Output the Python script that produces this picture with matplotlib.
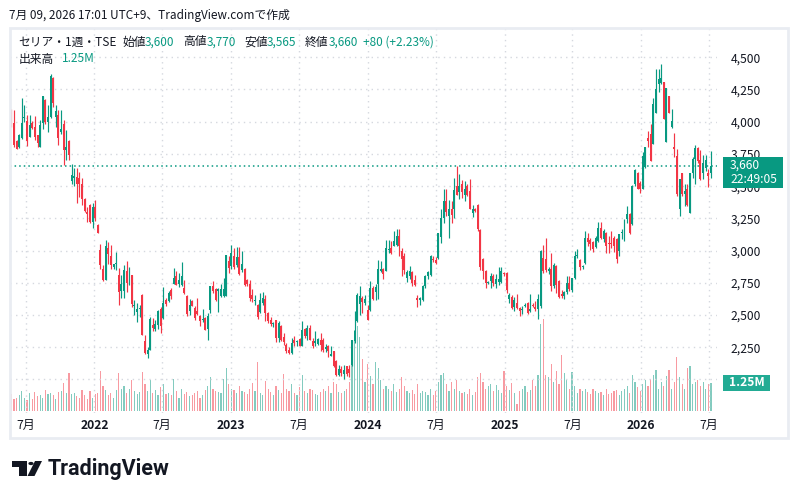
import numpy as np
import pandas as pd
import matplotlib
matplotlib.use("Agg")
import matplotlib.pyplot as plt
from matplotlib.patches import Rectangle, Circle, Polygon

plt.rcParams['font.family'] = ['Noto Sans CJK JP', 'DejaVu Sans']

W, H = 798, 499
UP = '#089981'
DOWN = '#f23645'
TXT = '#131722'
GRID = '#d5d8df'

# weekly candles, first week starts 2021-05-24
start_week = '2021-05-24'

opens = [
    4003, 3992, 3848, 3804, 3874, 4025, 4003, 3881, 3992, 3960,
    3894, 3804, 3992, 4165, 3998, 4036, 4338, 4036, 4049, 3920,
    3985, 3778, 3848, 3539, 3560, 3573, 3565, 3520, 3404, 3302,
    3353, 3224, 3340, 3199, 3005, 2858, 2773, 3018, 2961, 2876,
    2894, 2812, 2688, 2683, 2843, 2745, 2812, 2570, 2523, 2545,
    2657, 2302, 2199, 2232, 2425, 2395, 2426, 2547, 2480, 2615,
    2607, 2698, 2744, 2806, 2742, 2736, 2710, 2651, 2530, 2607,
    2555, 2530, 2496, 2460, 2478, 2392, 2537, 2729, 2703, 2690,
    2646, 2650, 2646, 2917, 2880, 2956, 2891, 2951, 2847, 2858,
    2770, 2742, 2659, 2610, 2581, 2522, 2590, 2625, 2517, 2460,
    2430, 2460, 2323, 2418, 2330, 2271, 2230, 2206, 2305, 2290,
    2315, 2263, 2392, 2336, 2400, 2297, 2280, 2279, 2310, 2310,
    2240, 2258, 2186, 2219, 2142, 2038, 2082, 2046, 2103, 2080,
    2116, 2297, 2452, 2589, 2633, 2594, 2542, 2537, 2710, 2680,
    2744, 2840, 2858, 2840, 3005, 3021, 3039, 3047, 3111, 2995,
    2961, 2788, 2800, 2832, 2775, 2633, 2620, 2615, 2723, 2801,
    2814, 2935, 2926, 2944, 3107, 3254, 3384, 3267, 3324, 3324,
    3505, 3453, 3520, 3430, 3505, 3461, 3290, 3320, 3350, 3159,
    2936, 2841, 2750, 2763, 2802, 2737, 2760, 2755, 2830, 2828,
    2621, 2642, 2560, 2590, 2556, 2540, 2570, 2595, 2531, 2575,
    2565, 2544, 2569, 2940, 2936, 2841, 2854, 2724, 2880, 2763,
    2665, 2647, 2678, 2745, 2693, 2790, 2960, 2928, 2870, 2902,
    3101, 3083, 3067, 3031, 3075, 3179, 3088, 3140, 3060, 3055,
    3101, 3088, 2998, 3135, 3088, 3249, 3282, 3204, 3514, 3605,
    3527, 3481, 3651, 3870, 3902, 3824, 4070, 4290, 4302, 4307,
    3842, 4199, 3961, 3806, 3734, 3321, 3605, 3437, 3476, 3290,
    3605, 3708, 3799, 3703, 3605, 3640, 3605, 3600]

highs = [
    4100, 4088, 3856, 3907, 4183, 4131, 4054, 4054, 4003, 4041,
    3894, 4010, 4196, 4178, 4131, 4368, 4346, 4126, 4088, 4093,
    4010, 3933, 3856, 3668, 3640, 3637, 3611, 3560, 3410, 3340,
    3358, 3366, 3391, 3205, 3049, 2889, 3082, 3070, 3044, 2897,
    2992, 2863, 2812, 2886, 2920, 2876, 2812, 2620, 2593, 2575,
    2662, 2348, 2250, 2486, 2476, 2465, 2537, 2563, 2715, 2633,
    2685, 2710, 2864, 2839, 2826, 2910, 2775, 2659, 2625, 2620,
    2568, 2633, 2504, 2550, 2486, 2517, 2729, 2762, 2710, 2710,
    2737, 2788, 2969, 2956, 3047, 3021, 3028, 3028, 3000, 2866,
    2780, 2770, 2700, 2659, 2589, 2672, 2677, 2659, 2522, 2486,
    2445, 2465, 2452, 2426, 2360, 2284, 2250, 2323, 2336, 2310,
    2323, 2452, 2400, 2426, 2426, 2323, 2380, 2323, 2362, 2323,
    2275, 2271, 2258, 2224, 2155, 2116, 2103, 2116, 2108, 2110,
    2305, 2530, 2672, 2724, 2651, 2659, 2581, 2762, 2729, 2737,
    2930, 2917, 2866, 3080, 3085, 3073, 3150, 3168, 3168, 3021,
    2982, 2853, 2880, 2840, 2814, 2652, 2640, 2736, 2814, 2840,
    2969, 2960, 2952, 3133, 3324, 3480, 3480, 3396, 3384, 3565,
    3660, 3598, 3546, 3540, 3515, 3557, 3357, 3330, 3358, 3164,
    2944, 2848, 2763, 2828, 2815, 2815, 2872, 2874, 2835, 2833,
    2673, 2652, 2640, 2660, 2560, 2570, 2595, 2600, 2665, 2595,
    2610, 2660, 3003, 3047, 3099, 2870, 2980, 2900, 2885, 2770,
    2695, 2685, 2800, 2800, 2790, 3000, 3010, 2938, 2890, 3153,
    3140, 3101, 3075, 3114, 3222, 3222, 3166, 3145, 3114, 3153,
    3114, 3101, 3127, 3170, 3243, 3346, 3290, 3507, 3631, 3610,
    3540, 3765, 3807, 3930, 3986, 4185, 4410, 4410, 4444, 4307,
    4263, 4199, 4100, 3910, 3790, 3553, 3605, 3514, 3514, 3605,
    3730, 3821, 3807, 3780, 3743, 3743, 3631, 3770]

lows = [
    3960, 3804, 3786, 3796, 3866, 3997, 3812, 3881, 3946, 3856,
    3804, 3804, 3946, 3985, 3920, 4030, 4114, 3959, 3823, 3907,
    3663, 3705, 3700, 3513, 3500, 3366, 3418, 3353, 3302, 3224,
    3211, 3177, 3232, 3135, 2858, 2766, 2773, 2894, 2858, 2858,
    2850, 2580, 2636, 2636, 2675, 2730, 2559, 2500, 2443, 2485,
    2343, 2194, 2168, 2232, 2374, 2374, 2392, 2362, 2470, 2571,
    2599, 2625, 2739, 2731, 2721, 2728, 2667, 2496, 2504, 2568,
    2465, 2504, 2413, 2445, 2382, 2305, 2517, 2672, 2607, 2520,
    2641, 2641, 2646, 2827, 2860, 2858, 2876, 2814, 2832, 2729,
    2729, 2607, 2599, 2581, 2470, 2517, 2580, 2452, 2439, 2413,
    2408, 2289, 2289, 2297, 2270, 2207, 2195, 2201, 2258, 2258,
    2258, 2258, 2323, 2310, 2305, 2245, 2258, 2271, 2219, 2212,
    2212, 2175, 2180, 2098, 2025, 2025, 2025, 2005, 2025, 2020,
    2103, 2284, 2444, 2504, 2513, 2580, 2465, 2530, 2620, 2620,
    2625, 2832, 2780, 2840, 2982, 2970, 3034, 3034, 2956, 2806,
    2818, 2755, 2780, 2724, 2724, 2563, 2580, 2607, 2710, 2780,
    2806, 2910, 2893, 2931, 3060, 3215, 3270, 3099, 3215, 3254,
    3428, 3402, 3410, 3385, 3420, 3324, 3257, 3300, 3151, 2848,
    2782, 2712, 2737, 2712, 2724, 2712, 2730, 2750, 2800, 2673,
    2595, 2549, 2535, 2549, 2490, 2505, 2560, 2505, 2523, 2560,
    2535, 2466, 2556, 2830, 2833, 2820, 2686, 2712, 2673, 2634,
    2634, 2627, 2660, 2690, 2680, 2780, 2940, 2850, 2860, 2894,
    3036, 3005, 2992, 3023, 3067, 3088, 3067, 2984, 2984, 3023,
    2990, 2902, 2959, 3093, 3075, 3217, 3127, 3196, 3505, 3476,
    3450, 3476, 3643, 3800, 3695, 3824, 4065, 4230, 4290, 4023,
    3842, 4065, 3950, 3729, 3424, 3269, 3424, 3346, 3346, 3290,
    3566, 3514, 3682, 3548, 3553, 3620, 3497, 3565]

closes = [
    3982, 3817, 3791, 3894, 3992, 4036, 3848, 3971, 3951, 3881,
    3838, 3971, 4196, 3998, 4040, 4358, 4147, 4080, 3874, 3941,
    3778, 3804, 3745, 3590, 3575, 3520, 3515, 3404, 3307, 3281,
    3224, 3340, 3250, 3139, 2889, 2773, 3039, 2972, 2889, 2894,
    2900, 2675, 2740, 2850, 2748, 2752, 2585, 2576, 2549, 2555,
    2348, 2204, 2232, 2472, 2400, 2434, 2532, 2413, 2590, 2589,
    2672, 2651, 2788, 2736, 2770, 2806, 2672, 2511, 2581, 2573,
    2478, 2505, 2452, 2465, 2382, 2496, 2729, 2685, 2620, 2705,
    2703, 2700, 2969, 2866, 2980, 2873, 2951, 2822, 2897, 2736,
    2744, 2633, 2625, 2620, 2486, 2615, 2630, 2517, 2452, 2431,
    2440, 2323, 2440, 2305, 2290, 2220, 2205, 2284, 2284, 2297,
    2263, 2387, 2336, 2400, 2310, 2258, 2300, 2315, 2271, 2227,
    2250, 2220, 2200, 2103, 2031, 2082, 2051, 2077, 2046, 2050,
    2305, 2375, 2659, 2651, 2600, 2625, 2465, 2710, 2625, 2720,
    2858, 2860, 2822, 3021, 3015, 2982, 3073, 3116, 3039, 2935,
    2853, 2832, 2840, 2749, 2736, 2620, 2630, 2723, 2801, 2832,
    2956, 2930, 2900, 3133, 3254, 3384, 3300, 3324, 3280, 3469,
    3428, 3500, 3453, 3480, 3428, 3324, 3320, 3307, 3164, 2874,
    2841, 2750, 2752, 2802, 2745, 2781, 2780, 2838, 2817, 2693,
    2652, 2556, 2620, 2556, 2530, 2550, 2580, 2513, 2549, 2570,
    2550, 2621, 2996, 2841, 2850, 2854, 2724, 2885, 2730, 2642,
    2645, 2678, 2745, 2700, 2790, 2957, 2964, 2869, 2880, 3101,
    3067, 3049, 3010, 3101, 3179, 3101, 3153, 3036, 3050, 3050,
    3036, 2933, 3127, 3145, 3230, 3282, 3140, 3501, 3626, 3481,
    3481, 3734, 3804, 3850, 3695, 4134, 4256, 4330, 4340, 4023,
    4263, 4065, 4008, 3790, 3437, 3553, 3437, 3463, 3352, 3605,
    3708, 3799, 3695, 3553, 3682, 3700, 3579, 3660]

# weekly volume, millions of shares
volumes = [
    0.75, 0.55, 0.6, 0.7, 0.9, 0.6, 0.5, 0.8, 0.55, 0.85, 0.65, 0.7, 0.6, 0.95, 0.75, 0.8, 0.7, 0.55, 0.85, 0.9,
    1.25, 0.8, 1.7, 0.75, 0.8, 0.65, 0.6, 0.95, 0.7, 0.55, 0.9, 0.6, 0.75, 0.8, 1.8, 1.1, 0.95, 0.7, 0.8, 0.6,
    0.95, 1.7, 1.0, 1.1, 0.8, 1.0, 1.4, 0.9, 0.75, 0.85, 1.75, 1.2, 0.9, 1.4, 0.8, 0.95, 0.7, 1.05, 1.2, 0.75,
    0.8, 0.7, 1.45, 0.9, 0.6, 1.0, 0.75, 0.85, 0.65, 0.7, 0.8, 0.9, 0.6, 0.7, 0.95, 1.1, 1.5, 1.0, 0.9, 0.85,
    0.8, 1.45, 1.9, 1.2, 1.0, 0.95, 0.8, 1.1, 0.9, 0.85, 0.75, 1.0, 1.25, 0.9, 2.2, 0.8, 0.7, 1.35, 1.0, 0.85,
    0.7, 1.1, 0.95, 0.8, 1.65, 1.0, 0.9, 1.2, 0.8, 0.7, 1.05, 1.6, 0.9, 0.8, 1.0, 0.95, 0.75, 0.7, 0.85, 1.0,
    0.9, 1.1, 0.8, 1.3, 1.2, 0.85, 0.8, 0.9, 1.0, 1.3, 3.1, 3.6, 3.8, 3.3, 2.3, 1.3, 2.1, 1.55, 1.2, 2.2,
    1.9, 1.4, 1.0, 1.1, 1.0, 0.9, 1.2, 0.85, 1.0, 1.5, 1.1, 0.9, 0.8, 0.95, 0.75, 1.2, 0.8, 0.9, 0.85, 0.7,
    1.0, 0.7, 0.9, 1.3, 1.6, 1.7, 1.2, 0.9, 1.3, 1.0, 1.4, 0.9, 0.8, 0.85, 0.75, 1.0, 0.7, 0.85, 1.5, 1.7,
    1.3, 1.0, 1.1, 1.2, 0.9, 1.15, 0.95, 0.8, 1.8, 1.1, 0.95, 1.25, 0.8, 0.3, 0.9, 1.0, 1.1, 0.85, 0.95, 1.4,
    1.1, 1.6, 3.9, 4.1, 1.6, 1.5, 2.1, 1.3, 1.8, 1.2, 2.5, 1.7, 1.4, 1.0, 1.75, 1.1, 0.8, 1.0, 0.9, 1.0,
    0.85, 0.75, 1.0, 0.9, 0.8, 0.85, 0.7, 1.0, 0.75, 0.8, 0.9, 0.95, 0.7, 0.9, 1.0, 1.1, 0.8, 1.6, 1.3, 1.05,
    0.9, 1.2, 1.4, 1.1, 1.45, 1.6, 1.85, 1.0, 1.3, 1.1, 1.55, 1.85, 1.0, 1.3, 2.4, 1.5, 1.2, 1.0, 1.9, 2.0,
    1.2, 1.3, 1.4, 1.1, 1.3, 1.0, 1.2, 1.25]

price_ticks = [2000, 2250, 2500, 2750, 3000, 3250, 3500, 3750, 4000, 4250, 4500]
tick_dates = ['2021-07-01', '2022-01-01', '2022-07-01', '2023-01-01', '2023-07-01',
              '2024-01-01', '2024-07-01', '2025-01-01', '2025-07-01', '2026-01-01',
              '2026-07-01']
tick_labels = ['7月', '2022', '7月', '2023', '7月', '2024', '7月', '2025', '7月', '2026', '7月']

last_price = 3660
last_volume = 1.25
countdown = '22:49:05'

dates = pd.date_range(start_week, periods=len(closes), freq='W-MON')
x = np.arange(len(closes))
tick_pos = [(pd.Timestamp(d) - dates[0]).days / 7 for d in tick_dates]

o = np.array(opens, float)
h = np.array(highs, float)
l = np.array(lows, float)
c = np.array(closes, float)
up = c >= o
col = np.where(up, UP, DOWN)


def fx(px):
    return px / W


def fy(py):
    return 1 - py / H


fig = plt.figure(figsize=(W / 100, H / 100), dpi=100)
fig.patch.set_facecolor('white')

left, right, top, bottom = 10, 717, 28, 413
ax = fig.add_axes([fx(left), fy(bottom), fx(right) - fx(left), fy(top) - fy(bottom)])
axv = ax.twinx()
ax.set_zorder(axv.get_zorder() + 1)
ax.patch.set_visible(False)

# volume
axv.bar(x, volumes, width=0.45, color=col, alpha=0.5, linewidth=0)
axv.set_ylim(-0.09, 17.1)
axv.set_yticks([])

# candles
ax.vlines(x, l, h, colors=col, linewidth=0.85, zorder=3)
ax.bar(x, np.maximum(np.abs(c - o), 6), bottom=np.minimum(o, c), width=0.76,
       color=col, linewidth=0, zorder=4)

ax.set_xlim(-0.5, 269.3)
ax.set_ylim(1740, 4727)

ax.axhline(last_price, color=UP, linestyle=(0, (1, 2)), linewidth=1.1, zorder=2)

ax.set_yticks(price_ticks)
ax.set_yticklabels([f'{v:,}' for v in price_ticks])
ax.yaxis.tick_right()
ax.tick_params(axis='y', length=0, pad=10, labelsize=8.7, labelcolor=TXT)
ax.set_xticks(tick_pos)
ax.set_xticklabels(tick_labels)
ax.tick_params(axis='x', length=0, pad=4, labelsize=8.7, labelcolor=TXT)
for t in ax.get_xticklabels():
    if '月' not in t.get_text():
        t.set_fontweight('bold')
ax.grid(True, linestyle=(0, (1, 3)), color=GRID, linewidth=1, zorder=0)
for a in (ax, axv):
    for s in a.spines.values():
        s.set_visible(False)

# pane border
fig.patches.append(Rectangle((fx(10), fy(438)), fx(788) - fx(10), fy(28) - fy(438),
                             transform=fig.transFigure, fill=False,
                             edgecolor='#e9ecf2', linewidth=2))

# last price tag
ly = H - ax.transData.transform((0, last_price))[1]
fig.patches.append(Rectangle((fx(723), fy(ly + 22.5)), fx(783) - fx(723), fy(ly - 8.5) - fy(ly + 22.5),
                             transform=fig.transFigure, facecolor=UP, edgecolor='none'))
fig.text(fx(730), fy(ly), f'{last_price:,}', color='white', fontsize=8.7, va='center', ha='left')
fig.text(fx(730), fy(ly + 14), countdown, color='white', fontsize=8.7, va='center', ha='left')

# volume tag
vy = H - axv.transData.transform((0, last_volume))[1]
fig.patches.append(Rectangle((fx(723), fy(vy + 8)), fx(770) - fx(723), fy(vy - 8) - fy(vy + 8),
                             transform=fig.transFigure, facecolor='#22ab94', edgecolor='none'))
fig.text(fx(729), fy(vy), f'{last_volume:.2f}M', color='white', fontsize=8.7,
         fontweight='bold', va='center', ha='left')

# header
fig.text(fx(9), fy(15), '7月 09, 2026 17:01 UTC+9、TradingView.comで作成',
         color=TXT, fontsize=8.5, va='center', ha='left')

legend1 = [('セリア・1週・TSE', 18.3, TXT), ('始値', 122.7, TXT), ('3,600', 145, UP),
           ('高値', 183.7, TXT), ('3,770', 206.7, UP), ('安値', 244.3, TXT),
           ('3,565', 266.7, UP), ('終値', 305, TXT), ('3,660', 328.3, UP),
           ('+80 (+2.23%)', 363.3, UP)]
for text, px, color in legend1:
    fig.text(fx(px), fy(42), text, color=color, fontsize=8.5, va='center', ha='left')
fig.text(fx(18.3), fy(59), '出来高', color=TXT, fontsize=8.5, va='center', ha='left')
fig.text(fx(61.7), fy(59), '1.25M', color=UP, fontsize=8.5, va='center', ha='left')

# TradingView logo
logo = '#131722'
fig.patches.append(Polygon([(fx(11.5), fy(461)), (fx(27), fy(461)), (fx(27), fy(476)),
                            (fx(19), fy(476)), (fx(19), fy(466.5)), (fx(11.5), fy(466.5))],
                           closed=True, transform=fig.transFigure, facecolor=logo, edgecolor='none'))
fig.patches.append(Circle((fx(31), fy(463.5)), 2.6 / W, transform=fig.transFigure,
                          facecolor=logo, edgecolor='none'))
fig.patches.append(Polygon([(fx(35), fy(461)), (fx(42), fy(461)), (fx(34.5), fy(476)), (fx(27.5), fy(476))],
                           closed=True, transform=fig.transFigure, facecolor=logo, edgecolor='none'))
fig.text(fx(48), fy(468.5), 'TradingView', family=['Roboto', 'DejaVu Sans'], fontweight='bold',
         fontsize=15.5, color=logo, va='center', ha='left')

fig.savefig('out.png', dpi=100)
